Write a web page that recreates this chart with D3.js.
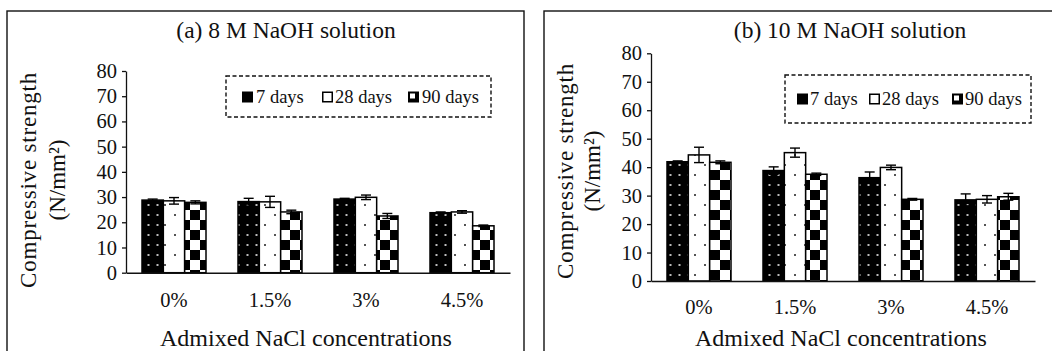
<!DOCTYPE html>
<html>
<head>
<meta charset="utf-8">
<script src="https://cdn.jsdelivr.net/npm/d3@7/dist/d3.min.js"></script>
</head>
<body style="margin:0;background:#fff">
<svg id="chart" width="1052" height="351" style="display:block"></svg>
<script>
// ---- data ----
const categories = ["0%", "1.5%", "3%", "4.5%"];
const seriesNames = ["7 days", "28 days", "90 days"];
const yTicks = [0, 10, 20, 30, 40, 50, 60, 70, 80];

const a7d  = [28.8, 28.2, 29.2, 23.8];
const a28d = [28.5, 28.1, 29.9, 24.1];
const a90d = [27.9, 24.1, 22.5, 18.6];
const aErr7d  = [0.4, 1.3, 0.3, 0.3];
const aErr28d = [1.3, 2.2, 0.9, 0.5];
const aErr90d = [0.6, 0.7, 1.0, 0.3];

const b7d  = [41.9, 38.8, 36.3, 28.5];
const b28d = [44.3, 45.1, 39.9, 28.7];
const b90d = [41.7, 37.5, 28.7, 29.6];
const bErr7d  = [0.3, 1.3, 2.0, 2.1];
const bErr28d = [2.7, 1.6, 0.8, 1.3];
const bErr90d = [0.5, 0.4, 0.3, 1.2];

const titles = ["(a) 8 M NaOH solution", "(b) 10 M NaOH solution"];
const yTitle1 = "Compressive strength";
const yTitle2 = "(N/mm²)";
const xTitle = "Admixed NaCl concentrations";

// ---- svg & patterns ----
const svg = d3.select("#chart");
const defs = svg.append("defs");

// 7 days: black with light dots
const p1 = defs.append("pattern").attr("id", "pat7").attr("patternUnits", "userSpaceOnUse")
  .attr("width", 9).attr("height", 10);
p1.append("rect").attr("width", 9).attr("height", 10).attr("fill", "#000");
p1.append("rect").attr("x", 3.5).attr("y", 4).attr("width", 2).attr("height", 2).attr("fill", "#bbb");

// 28 days: white with sparse dark dots
const p2 = defs.append("pattern").attr("id", "pat28").attr("patternUnits", "userSpaceOnUse")
  .attr("width", 20).attr("height", 20);
p2.append("rect").attr("width", 20).attr("height", 20).attr("fill", "#fff");
p2.append("rect").attr("x", 4).attr("y", 4).attr("width", 2).attr("height", 2).attr("fill", "#555");
p2.append("rect").attr("x", 14).attr("y", 14).attr("width", 2).attr("height", 2).attr("fill", "#555");

// 90 days: checkerboard
const p3 = defs.append("pattern").attr("id", "pat90").attr("patternUnits", "userSpaceOnUse")
  .attr("width", 20).attr("height", 20);
p3.append("rect").attr("width", 20).attr("height", 20).attr("fill", "#fff");
p3.append("rect").attr("x", 0).attr("y", 0).attr("width", 10).attr("height", 10).attr("fill", "#000");
p3.append("rect").attr("x", 10).attr("y", 10).attr("width", 10).attr("height", 10).attr("fill", "#000");

const fills = ["url(#pat7)", "url(#pat28)", "url(#pat90)"];

// ---- panel drawing ----
function drawPanel(cfg) {
  const g = svg.append("g");

  // frame
  g.append("rect")
    .attr("x", cfg.frame[0]).attr("y", cfg.frame[1])
    .attr("width", cfg.frame[2]).attr("height", cfg.frame[3])
    .attr("fill", "none").attr("stroke", "#111").attr("stroke-width", 1.4);

  const x = d3.scaleBand().domain(categories).range([cfg.x0, cfg.x1]).padding(0);
  const xs = d3.scaleBand().domain(seriesNames).range([x.bandwidth() / 6, x.bandwidth() * 5 / 6]).padding(0);
  const y = d3.scaleLinear().domain([0, 80]).range([cfg.yBottom, cfg.yTop]);

  // bars
  cfg.series.forEach((vals, si) => {
    const name = seriesNames[si];
    g.append("g").selectAll("rect")
      .data(vals.map((v, i) => ({ cat: categories[i], v })))
      .join("rect")
      .attr("x", d => x(d.cat) + xs(name))
      .attr("y", d => y(d.v))
      .attr("width", xs.bandwidth())
      .attr("height", d => y(0) - y(d.v))
      .attr("fill", fills[si])
      .attr("stroke", "#000").attr("stroke-width", 1.5);
  });

  // error bars
  cfg.series.forEach((vals, si) => {
    const name = seriesNames[si];
    const errs = cfg.errors[si];
    const eg = g.append("g").attr("stroke", "#000").attr("stroke-width", 1.4);
    vals.forEach((v, i) => {
      const cx = x(categories[i]) + xs(name) + xs.bandwidth() / 2;
      const yt = y(v + errs[i]), yb = y(v - errs[i]);
      eg.append("line").attr("x1", cx).attr("x2", cx).attr("y1", yt).attr("y2", yb);
      eg.append("line").attr("x1", cx - 5).attr("x2", cx + 5).attr("y1", yt).attr("y2", yt);
      eg.append("line").attr("x1", cx - 5).attr("x2", cx + 5).attr("y1", yb).attr("y2", yb);
    });
  });

  // y axis
  const yAxis = d3.axisLeft(y).tickValues(yTicks).tickSize(4).tickPadding(5).tickSizeOuter(0);
  const ya = g.append("g").attr("transform", `translate(${cfg.x0},0)`).call(yAxis);
  ya.select(".domain").attr("stroke", "#111").attr("stroke-width", 1.3);
  ya.selectAll(".tick line").attr("stroke", "#111").attr("stroke-width", 1.3);
  ya.selectAll(".tick text").style("font-size", "20.5px").attr("fill", "#111");

  // x axis
  const xAxis = d3.axisBottom(x).tickSize(0).tickPadding(cfg.xLabelPad).tickSizeOuter(0);
  const xa = g.append("g").attr("transform", `translate(0,${y(0)})`).call(xAxis);
  xa.select(".domain").attr("stroke", "#111").attr("stroke-width", 1.4);
  xa.selectAll(".tick text").style("font-size", "20.5px").attr("fill", "#111");

  // titles
  g.append("text").attr("x", cfg.titlePos[0]).attr("y", cfg.titlePos[1])
    .attr("text-anchor", "middle").attr("dominant-baseline", "central")
    .style("font-size", "23.5px").text(cfg.title);

  g.append("text").attr("x", cfg.xTitlePos[0]).attr("y", cfg.xTitlePos[1])
    .attr("text-anchor", "middle").attr("dominant-baseline", "central")
    .style("font-size", "24px").text(xTitle);

  g.append("text")
    .attr("transform", `translate(${cfg.yTitleX[0]},${cfg.yTitleY}) rotate(-90)`)
    .attr("text-anchor", "middle").attr("dominant-baseline", "central")
    .style("font-size", "23px").style("letter-spacing", "0.8px").text(yTitle1);
  g.append("text")
    .attr("transform", `translate(${cfg.yTitleX[1]},${cfg.yTitleY}) rotate(-90)`)
    .attr("text-anchor", "middle").attr("dominant-baseline", "central")
    .style("font-size", "23px").text(yTitle2);

  // legend
  const L = cfg.legend;
  g.append("rect").attr("x", L.box[0]).attr("y", L.box[1]).attr("width", L.box[2]).attr("height", L.box[3])
    .attr("fill", "#fff").attr("stroke", "#111").attr("stroke-width", 1.4).attr("stroke-dasharray", "4,2.5");
  seriesNames.forEach((name, i) => {
    const sx = L.sw[i], sy = L.cy - 5.5;
    if (i === 0) {
      g.append("rect").attr("x", sx).attr("y", sy).attr("width", 11).attr("height", 11).attr("fill", "#000");
    } else if (i === 1) {
      g.append("rect").attr("x", sx + 0.75).attr("y", sy + 0.75).attr("width", 9.5).attr("height", 9.5)
        .attr("fill", "#fff").attr("stroke", "#000").attr("stroke-width", 1.5);
    } else {
      g.append("rect").attr("x", sx).attr("y", sy).attr("width", 11).attr("height", 11).attr("fill", "#000");
      g.append("rect").attr("x", sx + 2).attr("y", sy + 2).attr("width", 5).attr("height", 5).attr("fill", "#fff");
    }
    g.append("text").attr("x", L.tx[i]).attr("y", L.cy).attr("dominant-baseline", "central")
      .style("font-size", "18.5px").text(name);
  });
}

drawPanel({
  frame: [7, 11, 517, 345],
  x0: 126, x1: 510, yBottom: 272.7, yTop: 71,
  series: [a7d, a28d, a90d], errors: [aErr7d, aErr28d, aErr90d],
  xLabelPad: 20,
  title: titles[0], titlePos: [286, 30],
  xTitlePos: [306, 338],
  yTitleX: [28, 57], yTitleY: 180,
  legend: { box: [226, 76, 265, 41], sw: [242, 322, 408], tx: [256, 335, 422], cy: 97 }
});

drawPanel({
  frame: [544, 11, 515, 345],
  x0: 651, x1: 1035, yBottom: 281, yTop: 53.3,
  series: [b7d, b28d, b90d], errors: [bErr7d, bErr28d, bErr90d],
  xLabelPad: 18,
  title: titles[1], titlePos: [850, 30],
  xTitlePos: [841, 338],
  yTitleX: [565, 592], yTitleY: 171,
  legend: { box: [785, 75, 246, 48], sw: [797, 869, 952], tx: [810, 882, 965], cy: 99 }
});

// apply serif font inline to every text
svg.selectAll("text").style("font-family", '"Liberation Serif"').style("fill", "#111");
</script>
</body>
</html>
